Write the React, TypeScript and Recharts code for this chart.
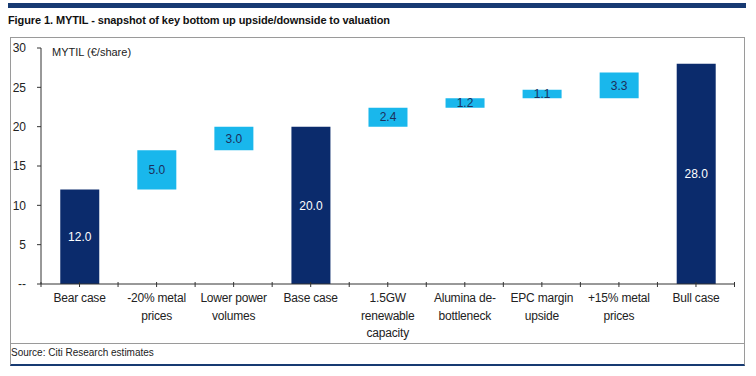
import { BarChart, Bar, XAxis, YAxis, LabelList } from "recharts";

// waterfall steps
const categories = [
  "Bear case",
  "-20% metal\nprices",
  "Lower power\nvolumes",
  "Base case",
  "1.5GW\nrenewable\ncapacity",
  "Alumina de-\nbottleneck",
  "EPC margin\nupside",
  "+15% metal\nprices",
  "Bull case",
];
const baseValues = [0, 12, 17, 0, 20, 22.4, 23.6, 23.6, 0];
const totalValues = [12, null, null, 20, null, null, null, null, 28];
const stepValues = [null, 5.0, 3.0, null, 2.4, 1.2, 1.1, 3.3, null];
const yTicks = [0, 5, 10, 15, 20, 25, 30];

const NAVY = "#0b2b6c";
const CYAN = "#19b7ec";
const FONT = "'Liberation Sans', Arial, sans-serif";

const data = categories.map((name, i) => ({
  name,
  base: baseValues[i],
  total: totalValues[i],
  step: stepValues[i],
}));

const XTick = (props: any) => {
  const { x, y, payload, index, visibleTicksCount } = props;
  const half = payload?.offset ?? 38.5;
  const lines = String(payload.value).split("\n");
  const isLast = index === visibleTicksCount - 1;
  return (
    <g>
      <line x1={x - half} x2={x - half} y1={y - 2} y2={y + 3} stroke="#333" />
      <line x1={x} x2={x} y1={y - 2} y2={y + 3} stroke="#333" />
      {isLast && <line x1={x + half} x2={x + half} y1={y - 2} y2={y + 3} stroke="#333" />}
      <text x={x} y={y} textAnchor="middle" fontSize={12} letterSpacing={-0.2} fill="#222" fontFamily={FONT}>
        {lines.map((l, i) => (
          <tspan key={i} x={x} dy={i === 0 ? 18 : 17.5}>
            {l}
          </tspan>
        ))}
      </text>
    </g>
  );
};

const fmt = (v: any) => (v == null ? "" : Number(v).toFixed(1));

export default function App() {
  return (
    <div
      style={{
        position: "absolute",
        left: 0,
        top: 0,
        width: 756,
        height: 376,
        background: "#fff",
        fontFamily: FONT,
      }}
    >
      <div style={{ position: "absolute", left: 8, top: 3, width: 738, height: 5, background: "#173a72" }} />
      <div
        style={{
          position: "absolute",
          left: 8,
          top: 14,
          fontSize: 11,
          fontWeight: 700,
          letterSpacing: -0.1,
          color: "#111",
          whiteSpace: "nowrap",
        }}
      >
        Figure 1. MYTIL - snapshot of key bottom up upside/downside to valuation
      </div>
      <div
        style={{
          position: "absolute",
          left: 10,
          top: 37,
          width: 733,
          height: 305,
          border: "1px solid #9a9a9a",
        }}
      />
      <div
        style={{
          position: "absolute",
          left: 10,
          top: 343,
          width: 733,
          height: 21,
          borderLeft: "1px solid #9a9a9a",
          borderRight: "1px solid #9a9a9a",
          borderBottom: "2px solid #173a72",
        }}
      />
      <div style={{ position: "absolute", left: 11, top: 347, fontSize: 10, color: "#222" }}>
        Source: Citi Research estimates
      </div>
      <div style={{ position: "absolute", left: 10, top: 33 }}>
        <BarChart
          width={735}
          height={310}
          data={data}
          margin={{ top: 15, right: 10.5, bottom: 0, left: 0 }}
          barCategoryGap="25%"
        >
          <XAxis
            dataKey="name"
            interval={0}
            height={59}
            tickSize={0}
            tickMargin={0}
            tickLine={false}
            axisLine={{ stroke: "#333" }}
            tick={<XTick />}
          />
          <YAxis
            domain={[0, 30]}
            ticks={yTicks}
            width={31}
            tickSize={4}
            tickMargin={11}
            axisLine={{ stroke: "#333" }}
            tickLine={{ stroke: "#333" }}
            tick={{ fontSize: 12, fill: "#222", fontFamily: FONT }}
            tickFormatter={(v: number) => (v === 0 ? "--" : String(v))}
          />
          <Bar dataKey="base" stackId="w" fill="transparent" isAnimationActive={false} />
          <Bar dataKey="total" stackId="w" fill={NAVY} isAnimationActive={false}>
            <LabelList dataKey="total" position="center" formatter={fmt} fill="#fff" fontSize={12} fontFamily={FONT} />
          </Bar>
          <Bar dataKey="step" stackId="w" fill={CYAN} isAnimationActive={false}>
            <LabelList dataKey="step" position="center" formatter={fmt} fill="#1c2f5c" fontSize={12} fontFamily={FONT} />
          </Bar>
        </BarChart>
      </div>
      <div style={{ position: "absolute", left: 52, top: 46, fontSize: 11, color: "#222" }}>MYTIL (€/share)</div>
    </div>
  );
}
